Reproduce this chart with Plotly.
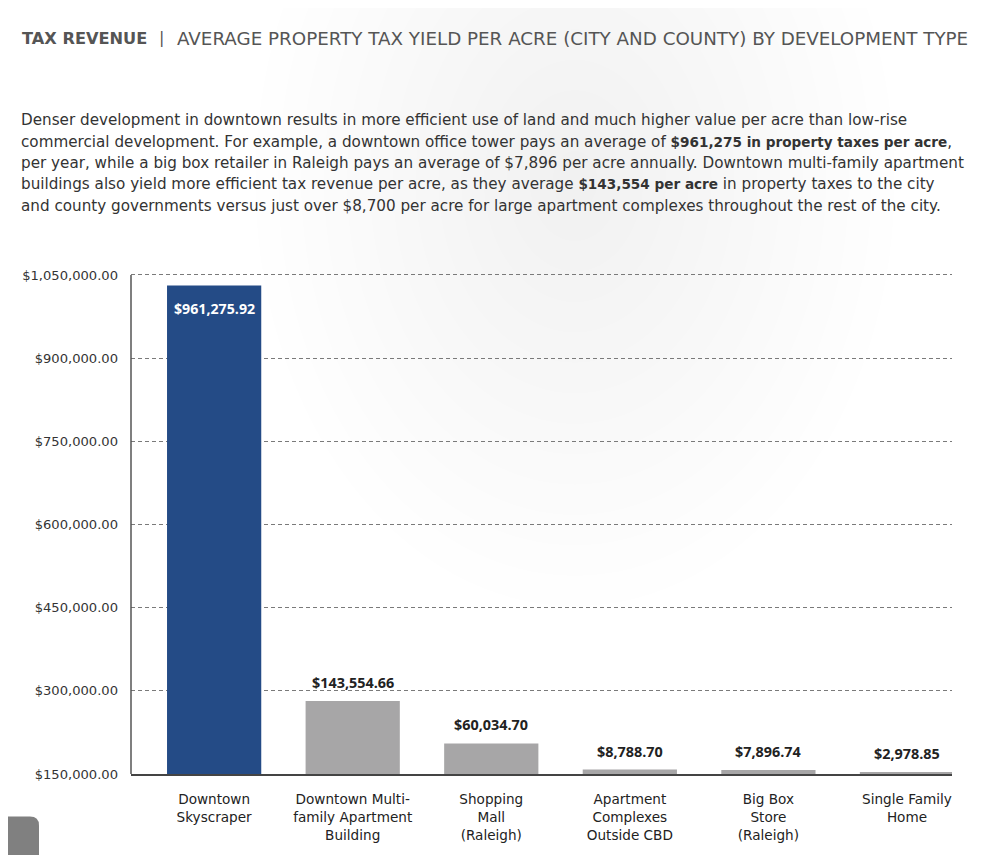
import plotly.graph_objects as go

# ---------------- data ----------------
categories = [
    "Downtown<br>Skyscraper",
    "Downtown Multi-<br>family Apartment<br>Building",
    "Shopping<br>Mall<br>(Raleigh)",
    "Apartment<br>Complexes<br>Outside CBD",
    "Big Box<br>Store<br>(Raleigh)",
    "Single Family<br>Home",
]
values = [961275.92, 143554.66, 60034.70, 8788.70, 7896.74, 2978.85]
value_labels = ["$961,275.92", "$143,554.66", "$60,034.70", "$8,788.70", "$7,896.74", "$2,978.85"]
tick_labels = ["$150,000.00", "$300,000.00", "$450,000.00", "$600,000.00",
               "$750,000.00", "$900,000.00", "$1,050,000.00"]
bar_colors = ["#244b86", "#a7a6a7", "#a7a6a7", "#a7a6a7", "#a7a6a7", "#a7a6a7"]

title_bold = "TAX REVENUE"
title_rest = "AVERAGE PROPERTY TAX YIELD PER ACRE (CITY AND COUNTY) BY DEVELOPMENT TYPE"
BOLD = '<span style="font-weight:bold;font-size:13.6px">%s</span>'
paragraph_lines = [
    "Denser development in downtown results in more efficient use of land and much higher value per acre than low-rise",
    "commercial development. For example, a downtown office tower pays an average of "
    + BOLD % "$961,275 in property taxes per acre" + ",",
    "per year, while a big box retailer in Raleigh pays an average of $7,896 per acre annually. Downtown multi-family apartment",
    "buildings also yield more efficient tax revenue per acre, as they average "
    + BOLD % "$143,554 per acre" + " in property taxes to the city",
    "and county governments versus just over $8,700 per acre for large apartment complexes throughout the rest of the city.",
]

# ---------------- layout geometry (page pixels; page body has an 8px margin) ----------------
OFF = 8
W, H = 984 - 2 * OFF, 863 - 2 * OFF
PLOT_LEFT, PLOT_RIGHT, PLOT_TOP, PLOT_BOTTOM = 131, 952, 270, 779
TOPGRID = 275
L = PLOT_LEFT - OFF
R = W - (PLOT_RIGHT - OFF)
T = PLOT_TOP - OFF
B = H - (PLOT_BOTTOM - OFF)
PW, PH = W - L - R, H - T - B
YMAX = 982000
YTOP = YMAX * PH / (PLOT_BOTTOM - TOPGRID)


def px(x):
    return (x - OFF - L) / PW


def py(y):
    return (PLOT_BOTTOM - y) / PH


FONT = "Open Sans"
DJ = "DejaVu Sans"

fig = go.Figure()
fig.add_trace(go.Bar(
    x=list(range(len(categories))),
    y=values,
    marker=dict(color=bar_colors, line=dict(width=0)),
    width=0.68,
    hoverinfo="skip",
))

annotations = []
# value labels
for i, (v, lab) in enumerate(zip(values, value_labels)):
    if i == 0:
        annotations.append(dict(x=i, y=v, xref="x", yref="y", text="<b>%s</b>" % lab,
                                showarrow=False, yanchor="top", yshift=-12,
                                font=dict(family=FONT, size=14.2, color="white")))
    else:
        annotations.append(dict(x=i, y=v, xref="x", yref="y", text="<b>%s</b>" % lab,
                                showarrow=False, yanchor="bottom", yshift=7,
                                font=dict(family=FONT, size=14.4, color="#222222")))

# title
annotations.append(dict(x=px(20), y=py(36), xref="paper", yref="paper", xanchor="left", yanchor="middle",
                        showarrow=False, text="<b>%s</b>" % title_bold,
                        font=dict(family=DJ, size=16.2, color="#555555")))
annotations.append(dict(x=px(161), y=py(35), xref="paper", yref="paper", xanchor="center", yanchor="middle",
                        showarrow=False, text="|",
                        font=dict(family=DJ, size=16, color="#555555")))
annotations.append(dict(x=px(175), y=py(36), xref="paper", yref="paper", xanchor="left", yanchor="middle",
                        showarrow=False, text=title_rest,
                        font=dict(family=DJ, size=18.3, color="#555555")))
# paragraph
line_y = [119, 140.5, 162, 183.5, 205]
for ln, yy in zip(paragraph_lines, line_y):
    annotations.append(dict(x=px(19), y=py(yy), xref="paper", yref="paper", xanchor="left", yanchor="middle",
                            showarrow=False, text=ln,
                            font=dict(family=DJ, size=15.2, color="#333333")))

shapes = []
# soft background glow
n = 14
for k in range(n):
    f = 1 - k / n
    rx, ry = 320 * f, 430 * f
    cx, cy = 575, 180
    shapes.append(dict(type="circle", xref="paper", yref="paper", layer="below",
                       x0=px(cx - rx), x1=px(cx + rx), y0=py(cy + ry), y1=py(cy - ry),
                       fillcolor="rgba(0,0,0,0.0045)", line=dict(width=0)))
# page tab bottom-left
r = 9
x0, x1, y0, y1 = 0, 39, 822, 870
path = "M %f,%f L %f,%f L %f,%f Q %f,%f %f,%f L %f,%f Z" % (
    px(x0), py(y1), px(x0), py(y0), px(x1 - r), py(y0),
    px(x1), py(y0), px(x1), py(y0 + r), px(x1), py(y1))
shapes.append(dict(type="path", xref="paper", yref="paper", path=path,
                   fillcolor="#808080", line=dict(width=0), layer="above"))
# y-axis line from baseline up to the top gridline
shapes.append(dict(type="line", xref="paper", yref="paper", x0=0, x1=0, y0=0, y1=py(TOPGRID),
                   line=dict(color="#555555", width=1.5), layer="above"))

fig.update_layout(
    width=W, height=H,
    margin=dict(l=L, r=R, t=T, b=B, pad=0),
    paper_bgcolor="white",
    plot_bgcolor="rgba(0,0,0,0)",
    showlegend=False,
    annotations=annotations,
    shapes=shapes,
    xaxis=dict(
        range=[-0.6, 5.325],
        tickmode="array", tickvals=list(range(len(categories))), ticktext=categories,
        showgrid=False, zeroline=False,
        showline=True, linecolor="#444444", linewidth=2,
        ticks="", ticklabelstandoff=12,
        tickfont=dict(family=DJ, size=13.6, color="#222222"),
        fixedrange=True,
    ),
    yaxis=dict(
        range=[0, YTOP],
        tickmode="array",
        tickvals=[YMAX * i / (len(tick_labels) - 1) for i in range(len(tick_labels))],
        ticktext=tick_labels,
        showgrid=True, gridcolor="#7a7a7a", gridwidth=1, griddash="4px,3px",
        zeroline=False,
        showline=False,
        ticks="", ticklabelstandoff=12,
        tickfont=dict(family=DJ, size=13.1, color="#333333"),
        fixedrange=True,
    ),
)

fig.write_html("out.html")
